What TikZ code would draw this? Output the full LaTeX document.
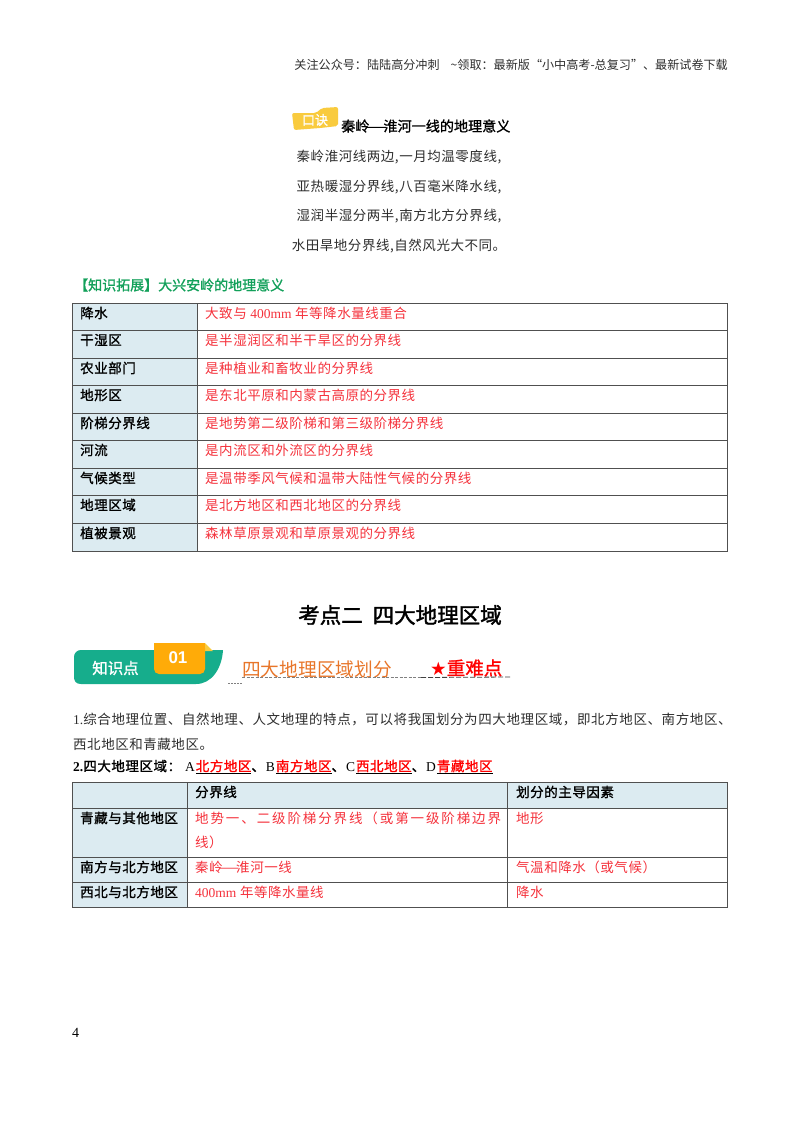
\documentclass[tikz,border=0pt]{standalone}
\usepackage{fontspec}
\setmainfont{Liberation Serif}
\newfontfamily\arial{Liberation Sans}
\newfontfamily\cjk{Noto Sans CJK SC}
\newfontfamily\cjkb[FakeBold=1.2]{Noto Sans CJK SC}
\newfontfamily\cjkbb[FakeBold=1.8]{Noto Sans CJK SC}
\newfontfamily\cjks[LetterSpace=4]{Noto Sans CJK SC}
\newfontfamily\cjkp[LetterSpace=4.5]{Noto Sans CJK SC}
\newfontfamily\cjkw[LetterSpace=14]{Noto Sans CJK SC}
\newfontfamily\cjkbs[FakeBold=1.2,LetterSpace=4]{Noto Sans CJK SC}
\definecolor{cellblue}{HTML}{DCEBF1}
\definecolor{rowline}{HTML}{505050}
\definecolor{redtext}{HTML}{F5323C}
\definecolor{greentext}{HTML}{12A05A}
\definecolor{teal}{HTML}{16AD8C}
\definecolor{amber}{HTML}{FFAB08}
\definecolor{paleamber}{HTML}{F9CB3E}
\definecolor{orangetext}{HTML}{E8762A}
\definecolor{bodygray}{HTML}{2E2E2E}
\tikzset{
  x=1pt,y=-1pt,
  txt/.style={inner sep=0pt,anchor=west,text=bodygray,font=\fontsize{13.5}{16}\cjks},
  head/.style={inner sep=0pt,anchor=west,text=black,font=\fontsize{13.5}{16}\cjkbs},
  redc/.style={inner sep=0pt,anchor=west,text=redtext,font=\fontsize{13.5}{16}\cjks},
  verse/.style={inner sep=0pt,anchor=center,text=bodygray,font=\fontsize{13.5}{16}\cjks},
  gridl/.style={draw=rowline,line width=1pt,fill=none},
  fillc/.style={fill=cellblue,draw=none},
}
\newcommand{\ru}[1]{\underline{\textcolor{red}{#1}}}
\newcommand{\fd}{\makebox[1em][c]{\scalebox{1.7}[1]{—}}}
\newcommand{\fcomma}{\symbol{"FF0C}}
\newcommand{\fcolon}{\symbol{"FF1A}}
\newcommand{\fopen}{\symbol{"FF08}}
\newcommand{\fclose}{\symbol{"FF09}}
\begin{document}
\begin{tikzpicture}
\useasboundingbox (0,0) rectangle (800,1132);
\fill[white] (0,0) rectangle (800,1132);
% header
\node[inner sep=0pt,anchor=east,text=bodygray,font=\fontsize{12.1}{14}\cjk] (hdr) at (728,65) {关注公众号\fcolon 陆陆高分冲刺\hspace{11pt}\textasciitilde 领取\fcolon 最新版“小中高考-总复习”、最新试卷下载};
% verse badge
\path[fill=paleamber,rounded corners=2pt] (292,113) -- (316,113) -- (322,108) -- (338,107) -- (338,126) -- (320,128) -- (294,130) -- cycle;
\node[inner sep=0pt,text=white,font=\fontsize{13}{15}\cjkb] (kj) at (315,120) {口诀};
\node[inner sep=0pt,anchor=west,text=black,font=\fontsize{14.1}{16}\cjkb] (vt) at (341,126) {秦岭\fd 淮河一线的地理意义};
\node[verse] (v1) at (399,157) {秦岭淮河线两边,一月均温零度线,};
\node[verse] (v2) at (399,187) {亚热暖湿分界线,八百毫米降水线,};
\node[verse] (v3) at (399,216) {湿润半湿分两半,南方北方分界线,};
\node[verse] (v4) at (399,246) {水田旱地分界线,自然风光大不同。};
\node[inner sep=0pt,anchor=west,text=greentext,font=\fontsize{14}{16}\cjkb] (ext) at (74,285) {【知识拓展】大兴安岭的地理意义};
% table 1
\fill[fillc] (72,303) rectangle (197,551);
\foreach \yy in {303,330.5,358,385.5,413,440.5,468,495.5,523,551}
  \draw[gridl] (72,\yy) -- (727.5,\yy);
\foreach \xx in {72.5,197,727.5}
  \draw[gridl] (\xx,303) -- (\xx,551);
\node[head] (a1) at (80,313) {降水};
\node[head] (a2) at (80,340) {干湿区};
\node[head] (a3) at (80,368) {农业部门};
\node[head] (a4) at (80,395) {地形区};
\node[head] (a5) at (80,423) {阶梯分界线};
\node[head] (a6) at (80,450) {河流};
\node[head] (a7) at (80,478) {气候类型};
\node[head] (a8) at (80,505) {地理区域};
\node[head] (a9) at (80,533) {植被景观};
\node[redc] (b1) at (205,313) {大致与 {\rmfamily 400mm} 年等降水量线重合};
\node[redc] (b2) at (205,340) {是半湿润区和半干旱区的分界线};
\node[redc] (b3) at (205,368) {是种植业和畜牧业的分界线};
\node[redc] (b4) at (205,395) {是东北平原和内蒙古高原的分界线};
\node[redc] (b5) at (205,423) {是地势第二级阶梯和第三级阶梯分界线};
\node[redc] (b6) at (205,450) {是内流区和外流区的分界线};
\node[redc] (b7) at (205,478) {是温带季风气候和温带大陆性气候的分界线};
\node[redc] (b8) at (205,505) {是北方地区和西北地区的分界线};
\node[redc] (b9) at (205,533) {森林草原景观和草原景观的分界线};
% section title
\node[inner sep=0pt,text=black,font=\fontsize{21.5}{24}\cjkbb] (sec) at (400,615) {考点二\hspace{10pt}四大地理区域};
% section badge
\path[fill=teal] (81,650) -- (223,650) .. controls (222,668) and (212,684) .. (196,684) -- (81,684) .. controls (76,684) and (74,681) .. (74,677) -- (74,657) .. controls (74,653) and (77,650) .. (81,650) -- cycle;
\path[fill=paleamber] (205,643) -- (213,651) -- (205,651) -- cycle;
\path[fill=amber,rounded corners=5pt] (154,643) -- (205,643) -- (205,674) -- (154,674) -- cycle;
\fill[amber] (154,643) rectangle (160,650);
\fill[amber] (199,643) rectangle (205,650);
\node[inner sep=0pt,text=white,font=\fontsize{15.5}{18}\cjkb] (zsd) at (115.5,668) {知识点};
\node[inner sep=0pt,text=white,font=\fontsize{17}{18}\arial\bfseries] (n01) at (178,658) {01};
\node[inner sep=0pt,anchor=west,text=orangetext,font=\fontsize{18.7}{22}\cjk] (t1) at (242,669) {四大地理区域划分};
\node[inner sep=0pt,anchor=west,text=red,font=\fontsize{18.5}{22}\cjkb] (t2) at (430,668) {{\fontspec{DejaVu Sans}★}重难点};
\coordinate (u1) at (242,677.5); \coordinate (u2) at (421,677.5); \coordinate (u3) at (511,677); \coordinate (u4) at (228,683.5);
\draw[gray,line width=.7pt,dash pattern=on 3pt off 1.5pt] (u1) -- (u2);
\draw[black!75,line width=.8pt,dash pattern=on 5pt off 2pt] (u2) -- (u3);
\draw[gray,line width=.6pt,dash pattern=on 2pt off 1pt] (u4) -- (242,683.5);
% paragraph
\node[txt,font=\fontsize{13.5}{16}\cjkp] (p1) at (73,719) {{\rmfamily 1.}综合地理位置、自然地理、人文地理的特点\fcomma 可以将我国划分为四大地理区域\fcomma 即北方地区、南方地区、};
\node[txt] (p2) at (73,744) {西北地区和青藏地区。};
\node[head] (p3) at (73,767) {{\rmfamily\bfseries 2.}四大地理区域\fcolon\hspace{4pt}{\rmfamily A}\hspace{1pt}\ru{北方地区}、\hspace{1pt}{\rmfamily B}\hspace{1pt}\ru{南方地区}、\hspace{1pt}{\rmfamily C}\hspace{1pt}\ru{西北地区}、\hspace{1pt}{\rmfamily D}\hspace{1pt}\ru{青藏地区}};
% table 2
\fill[fillc] (72,782) rectangle (727,808);
\fill[fillc] (72,782) rectangle (187,907);
\foreach \yy in {782,808,857,882,907}
  \draw[gridl] (72,\yy) -- (727.5,\yy);
\foreach \xx in {72.5,187,507,727.5}
  \draw[gridl] (\xx,782) -- (\xx,907);
\node[head] (h1) at (195,792) {分界线};
\node[head] (h2) at (516,792) {划分的主导因素};
\node[head] (c1) at (80,818) {青藏与其他地区};
\node[head] (c2) at (80,867) {南方与北方地区};
\node[head] (c3) at (80,892) {西北与北方地区};
\node[redc,font=\fontsize{13.5}{16}\cjkw] (d1) at (195,818) {地势一、二级阶梯分界线\fopen 或第一级阶梯边界};
\node[redc] (d1b) at (195,842) {线\fclose};
\node[redc] (d2) at (195,867) {秦岭\fd 淮河一线};
\node[redc] (d3) at (195,892) {{\rmfamily 400mm} 年等降水量线};
\node[redc] (e1) at (516,818) {地形};
\node[redc] (e2) at (516,867) {气温和降水\fopen 或气候\fclose};
\node[redc] (e3) at (516,892) {降水};
\node[inner sep=0pt,anchor=west,text=black,font=\fontsize{14}{16}\rmfamily] (pg) at (72,1033) {4};
\end{tikzpicture}
\end{document}
